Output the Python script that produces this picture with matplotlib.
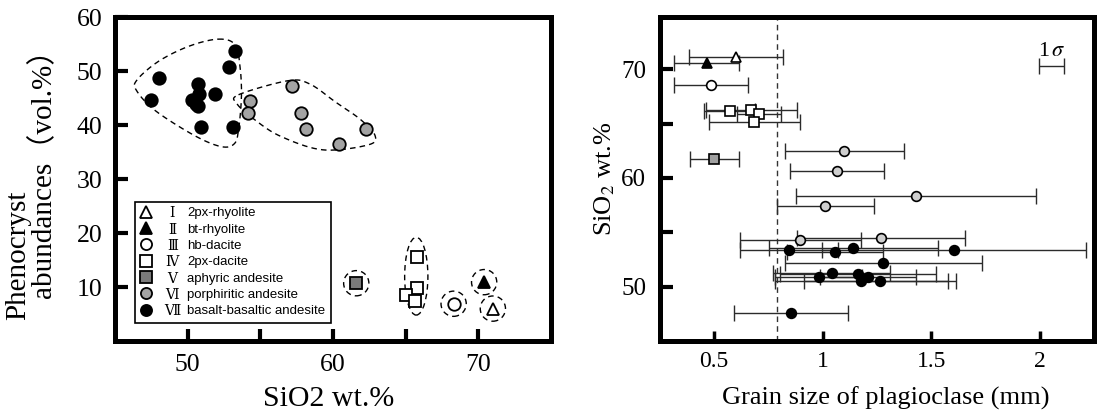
import matplotlib
matplotlib.use('Agg')
import matplotlib.pyplot as plt
import numpy as np
from matplotlib.patches import Ellipse
from matplotlib.lines import Line2D

plt.rcParams['font.family'] = ['Liberation Serif', 'Noto Sans CJK SC', 'DejaVu Serif']
plt.rcParams['mathtext.fontset'] = 'stix'

# ---- left panel: SiO2 vs phenocryst abundance ----
rhy2px_si, rhy2px_ph = [71.0], [6.0]
rhybt_si, rhybt_ph = [70.4], [10.9]
dachb_si, dachb_ph = [68.3], [6.9]
dac2px_si = [65.8, 65.8, 65.0, 65.66]
dac2px_ph = [15.6, 9.9, 8.5, 7.5]
aph_si, aph_ph = [61.6], [10.7]
por_si = [54.32, 54.12, 57.2, 57.83, 58.17, 60.42, 62.25]
por_ph = [44.4, 42.2, 47.3, 42.3, 39.3, 36.4, 39.3]
bas_si = [53.24, 52.84, 48.06, 47.5, 50.7, 50.8, 51.9, 50.3, 50.57, 50.7, 50.93, 53.14]
bas_ph = [53.7, 50.75, 48.76, 44.6, 47.5, 45.8, 45.8, 44.6, 43.8, 43.6, 39.6, 39.6]

# dashed group outlines (SiO2, abundance)
env_bas = [(52.1, 55.9), (53.25, 54.9), (53.6, 50.9), (53.7, 45.3), (53.5, 39.1),
           (53.2, 36.5), (52.3, 36.0), (50.5, 38.0), (47.8, 42.6), (46.5, 46.3),
           (46.5, 48.3), (48.0, 51.8), (50.1, 54.6)]
env_por = [(53.5, 45.6), (56.9, 48.2), (58.4, 47.6), (60.2, 44.2), (61.9, 41.0),
           (62.9, 38.0), (62.4, 36.3), (59.3, 35.4), (56.4, 37.9), (54.6, 41.0),
           (53.4, 43.9)]
env_dac = (65.73, 12.0, 1.6, 14.4)  # centre x, centre y, width, height

# ---- right panel: grain size of plagioclase ----
rhy2px_gs, rhy2px_sd, rhy2px_s2 = [0.60], [0.217], [71.16]
rhybt_gs, rhybt_sd, rhybt_s2 = [0.465], [0.15], [70.6]
dachb_gs, dachb_sd, dachb_s2 = [0.486], [0.17], [68.56]
dac2px_gs = [0.571, 0.67, 0.706, 0.685]
dac2px_sd = [0.117, 0.21, 0.10, 0.21]
dac2px_s2 = [66.11, 66.27, 65.9, 65.1]
aph_gs, aph_sd, aph_s2 = [0.5], [0.114], [61.74]
por_gs = [1.10, 1.067, 1.43, 1.012, 0.897, 1.268]
por_sd = [0.275, 0.217, 0.555, 0.225, 0.277, 0.386]
por_s2 = [62.5, 60.67, 58.31, 57.39, 54.28, 54.43]
bas_gs = [0.845, 1.057, 1.141, 1.605, 1.279, 0.981, 1.042, 1.164, 1.209, 1.178, 1.264, 0.853]
bas_sd = [0.225, 0.22, 0.391, 0.61, 0.455, 0.2, 0.27, 0.36, 0.22, 0.4, 0.35, 0.264]
bas_s2 = [53.36, 53.17, 53.51, 53.36, 52.14, 50.92, 51.22, 51.13, 50.92, 50.51, 50.51, 47.61]
grain_cut = 0.79
sigma_ref = (2.055, 70.3, 0.057)

numerals = ['Ⅰ', 'Ⅱ', 'Ⅲ', 'Ⅳ', 'Ⅴ', 'Ⅵ', 'Ⅶ']
rock_names = ['2px-rhyolite', 'bt-rhyolite', 'hb-dacite', '2px-dacite',
              'aphyric andesite', 'porphiritic andesite', 'basalt-basaltic andesite']
styles = [('^', 'white'), ('^', 'black'), ('o', 'white'), ('s', 'white'),
          ('s', '#7a7a7a'), ('o', '#a3a3a3'), ('o', 'black')]


def smooth_closed(pts, n=30):
    # closed Catmull-Rom curve through the outline points
    p = np.array(pts)
    out = []
    m = len(p)
    for i in range(m):
        p0, p1, p2, p3 = p[i - 1], p[i], p[(i + 1) % m], p[(i + 2) % m]
        t = np.linspace(0, 1, n, endpoint=False)[:, None]
        out.append(0.5 * ((2 * p1) + (-p0 + p2) * t + (2 * p0 - 5 * p1 + 4 * p2 - p3) * t ** 2
                          + (-p0 + 3 * p1 - 3 * p2 + p3) * t ** 3))
    out = np.vstack(out)
    return np.vstack([out, out[:1]])


def frame(ax):
    for s in ax.spines.values():
        s.set_linewidth(3.6)


W, H = 1097, 411
fig = plt.figure(figsize=(W / 100, H / 100), dpi=100)

# ======== left panel ========
ax1 = fig.add_axes([115 / W, 70 / H, 436 / W, 324 / H])
frame(ax1)
left_groups = [(rhy2px_si, rhy2px_ph), (rhybt_si, rhybt_ph), (dachb_si, dachb_ph),
               (dac2px_si, dac2px_ph), (aph_si, aph_ph), (por_si, por_ph), (bas_si, bas_ph)]
for (xs, ys), (mk, fc) in zip(left_groups, styles):
    ax1.plot(xs, ys, ls='none', marker=mk, mfc=fc, mec='black', mew=1.3, ms=9, zorder=3)

for env in (env_bas, env_por):
    c = smooth_closed(env)
    ax1.plot(c[:, 0], c[:, 1], color='black', lw=1.0, ls=(0, (4, 3)), zorder=2)
ax1.add_patch(Ellipse(env_dac[:2], env_dac[2], env_dac[3], fill=False, ec='black',
                      lw=1.0, ls=(0, (4, 3)), zorder=2))
for xs, ys in [(aph_si, aph_ph), (dachb_si, dachb_ph), (rhybt_si, rhybt_ph), (rhy2px_si, rhy2px_ph)]:
    ax1.scatter(xs, ys, s=330, facecolors='none', edgecolors='black', linewidths=1.0,
                linestyles=(0, (4, 3)), zorder=2)

ax1.set_xlim(45, 75)
ax1.set_ylim(0, 60)
ax1.set_xticks([50, 55, 60, 65, 70])
ax1.set_xticklabels(['50', '', '60', '', '70'])
ax1.set_yticks([10, 20, 30, 40, 50, 60])
ax1.tick_params(direction='in', length=9, width=3, labelsize=18.5, pad=9,
                top=False, right=False)
ax1.set_xlabel('SiO2 wt.%', fontsize=21.5)
ax1.xaxis.set_label_coords(0.49, -0.14)
fig.text(18 / W, 1 - 255 / H, 'Phenocryst', rotation=90, ha='center', va='center',
         fontsize=21)
fig.text(43 / W, 1 - 166 / H, 'abundances（vol.%）', rotation=90, ha='center',
         va='center', fontsize=21)

handles = [Line2D([], [], ls='none', marker=mk, mfc=fc, mec='black', mew=1.3, ms=8)
           for mk, fc in styles]
leg = ax1.legend(handles, rock_names, loc='lower left', bbox_to_anchor=(0.045, 0.057),
                 borderaxespad=0, borderpad=0.4, labelspacing=0.31, handlelength=1.0,
                 handletextpad=2.6, fancybox=False, framealpha=1, edgecolor='black',
                 prop={'family': 'Liberation Sans', 'size': 9.5})
leg.get_frame().set_linewidth(1.2)

# ======== right panel ========
ax2 = fig.add_axes([660 / W, 70 / H, 434 / W, 324 / H])
frame(ax2)
right_groups = [(rhy2px_gs, rhy2px_sd, rhy2px_s2), (rhybt_gs, rhybt_sd, rhybt_s2),
                (dachb_gs, dachb_sd, dachb_s2), (dac2px_gs, dac2px_sd, dac2px_s2),
                (aph_gs, aph_sd, aph_s2), (por_gs, por_sd, por_s2), (bas_gs, bas_sd, bas_s2)]
right_fc = ['white', 'black', 'white', 'white', '#a0a0a0', '#cfcfcf', 'black']
for (gs, sd, s2), (mk, _), fc in zip(right_groups, styles, right_fc):
    ax2.errorbar(gs, s2, xerr=sd, fmt='none', ecolor='#2b2b2b', elinewidth=1.0,
                 capsize=6, capthick=1.0, zorder=2)
    ax2.plot(gs, s2, ls='none', marker=mk, mfc=fc, mec='black', mew=1.2,
             ms=7 if mk != 's' else 6.5, zorder=3)

ax2.axvline(grain_cut, color='#333333', lw=1.0, ls=(0, (4, 3)), zorder=1)
ax2.errorbar([sigma_ref[0]], [sigma_ref[1]], xerr=[sigma_ref[2]], fmt='none',
             ecolor='#2b2b2b', elinewidth=1.0, capsize=6, capthick=1.0)
ax2.text(sigma_ref[0], sigma_ref[1] + 0.45, r'1$\,\sigma$', ha='center', va='bottom',
         fontsize=16)

ax2.set_xlim(0.25, 2.25)
ax2.set_ylim(45, 74.8)
ax2.set_xticks([0.5, 1, 1.5, 2])
ax2.set_xticklabels(['0.5', '1', '1.5', '2'])
ax2.set_yticks([50, 55, 60, 65, 70])
ax2.set_yticklabels(['50', '', '60', '', '70'])
ax2.tick_params(axis='y', direction='in', length=9, width=3, labelsize=18, pad=10)
ax2.tick_params(axis='x', direction='in', length=7, width=2.5, labelsize=17, pad=7)
ax2.set_xlabel('Grain size of plagioclase (mm)', fontsize=19)
ax2.xaxis.set_label_coords(0.52, -0.14)
ax2.set_ylabel('SiO$_2$ wt.%', fontsize=19)
ax2.yaxis.set_label_coords(-0.1, 0.5)

# roman numerals in a column between the legend markers and the names
fig.canvas.draw()
for t, num in zip(leg.get_texts(), numerals):
    bb = t.get_window_extent()
    fig.text((bb.x0 - 15) / W, (bb.y0 + bb.y1) / 2 / H, num, ha='center', va='center',
             fontsize=10, family=['DejaVu Serif', 'Noto Sans CJK SC'])

fig.savefig('out.png', dpi=100)
